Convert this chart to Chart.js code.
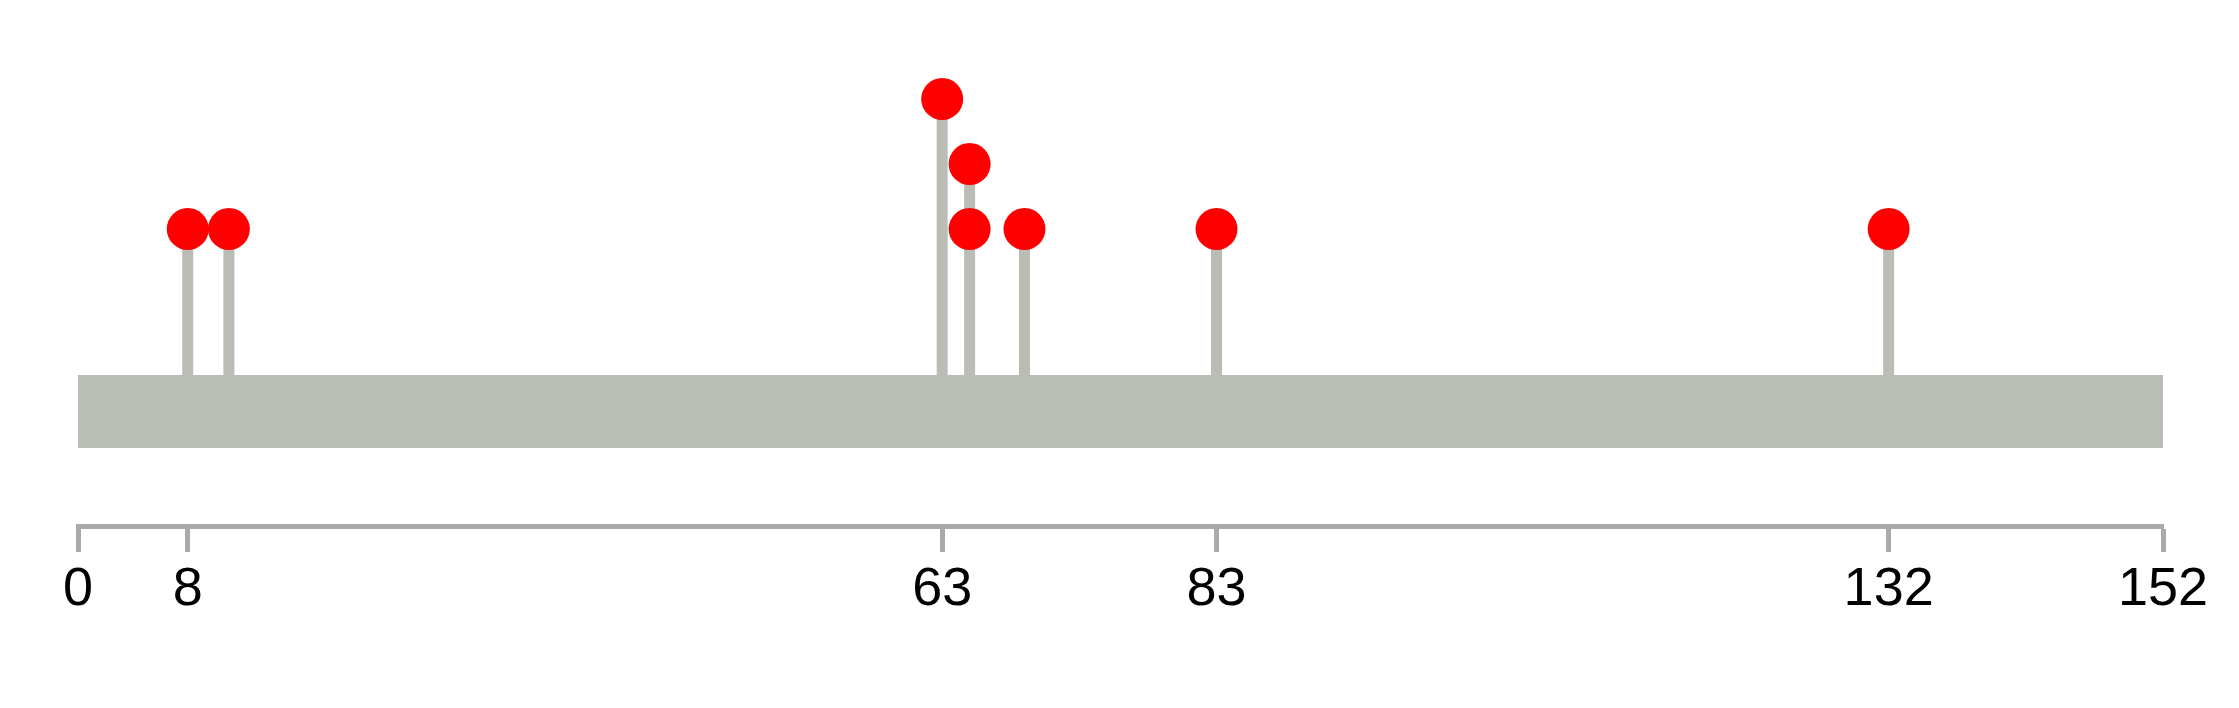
<!DOCTYPE html>
<html>
<head>
<meta charset="utf-8">
<script src="https://cdn.jsdelivr.net/npm/chart.js@4/dist/chart.umd.min.js"></script>
<style>
  html, body { margin: 0; padding: 0; background: #ffffff; }
  #wrap { width: 2239px; height: 708px; }
</style>
</head>
<body>
<div id="wrap"><canvas id="myChart" width="2239" height="708"></canvas></div>
<script>
// data ---------------------------------------------------
const proteinLength = 152;
const positions = [8, 11, 63, 65, 65, 69, 83, 132];
const counts = [1, 1, 3, 2, 1, 1, 1, 1];
const tickValues = [0, 8, 63, 83, 132, 152];

// look ----------------------------------------------------
const grey = '#babdb6';
const axisGrey = '#aaaaaa';
const barY = -1.81;      // centre of the protein bar, in y units
const yMin = -3.57;
const yMax = 4.2;

// protein bar: one thick line from 0 to full length
const barData = [{ x: 0, y: barY }, { x: proteinLength, y: barY }];

// stems: one segment per mutation, split with nulls
const stemData = [];
positions.forEach((p, i) => {
    stemData.push({ x: p, y: barY });
    stemData.push({ x: p, y: counts[i] });
    stemData.push({ x: p, y: null });
});

const headData = positions.map((p, i) => ({ x: p, y: counts[i] }));

const data = {
    datasets: [
        {
            label: 'heads',
            data: headData,
            order: 0,
            pointRadius: 21,
            pointHoverRadius: 21,
            pointBackgroundColor: '#ff0000',
            pointBorderWidth: 0,
            showLine: false,
            clip: false
        },
        {
            label: 'stems',
            data: stemData,
            order: 1,
            showLine: true,
            spanGaps: false,
            borderColor: grey,
            borderWidth: 11,
            borderCapStyle: 'butt',
            pointRadius: 0,
            pointHoverRadius: 0
        },
        {
            label: 'protein',
            data: barData,
            order: 2,
            showLine: true,
            borderColor: grey,
            borderWidth: 73,
            borderCapStyle: 'butt',
            pointRadius: 0,
            pointHoverRadius: 0
        }
    ]
};

const options = {
    responsive: false,
    animation: false,
    events: [],
    layout: { padding: { left: 78, right: 76, top: 0, bottom: 0 } },
    plugins: {
        legend: { display: false },
        tooltip: { enabled: false }
    },
    scales: {
        x: {
            type: 'linear',
            min: 0,
            max: proteinLength,
            afterBuildTicks: axis => {
                axis.ticks = tickValues.map(v => ({ value: v }));
            },
            afterFit: axis => { axis.height = 182; },
            border: { display: true, color: axisGrey, width: 5 },
            grid: {
                drawOnChartArea: false,
                drawTicks: true,
                tickLength: 26,
                tickWidth: 5,
                tickColor: axisGrey,
                color: axisGrey
            },
            ticks: {
                autoSkip: false,
                maxRotation: 0,
                padding: 6,
                color: '#000000',
                font: { family: '"Liberation Sans", Arial, sans-serif', size: 54 }
            }
        },
        y: {
            type: 'linear',
            display: false,
            min: yMin,
            max: yMax
        }
    }
};

const myChart = new Chart(document.getElementById('myChart'), {
    type: 'scatter',
    data,
    options
});
</script>
</body>
</html>
